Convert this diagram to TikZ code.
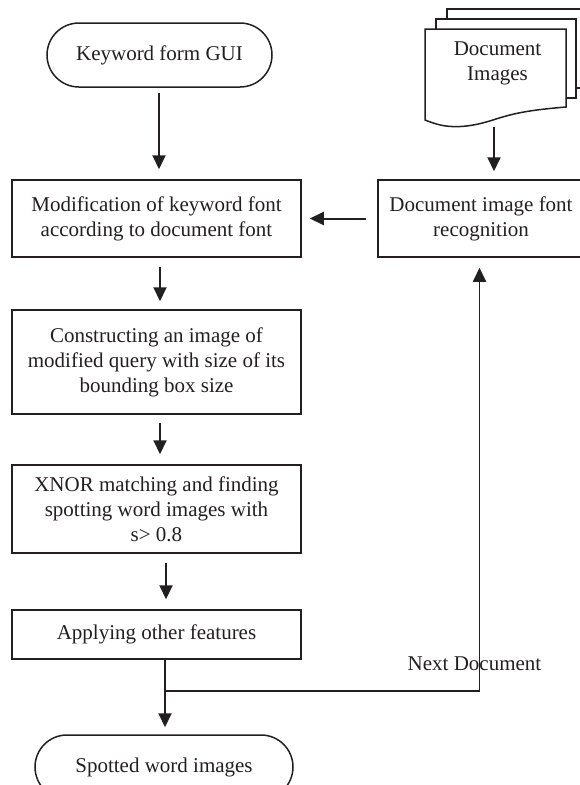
\documentclass[tikz,border=0pt]{standalone}
\usepackage{fontspec}
\setmainfont{Liberation Serif}
\usetikzlibrary{arrows.meta}
\definecolor{lc}{HTML}{231F20}
\begin{document}
\begin{tikzpicture}[x=1pt,y=-1pt,
  every node/.style={text=lc, font=\fontsize{21}{25}\selectfont},
  box/.style={draw=lc, line width=1.5pt, minimum width=289pt, align=center, inner sep=0pt},
  term/.style={draw=lc, line width=1.5pt, rounded corners=32pt, minimum height=64pt, align=center, inner sep=0pt},
  arr/.style={draw=lc, line width=2pt, -{Triangle[length=14pt,width=13pt]}},
  page/.style={draw=lc, line width=1.5pt, fill=white},
]
\useasboundingbox (0,0) rectangle (580,785);
\clip (0,0) rectangle (580,785);

% terminals
\node[term, minimum width=225pt] (kw) at (159.5,55) {Keyword form GUI};
\node[term, minimum width=258pt] (sp) at (164,767) {Spotted word images};

% process boxes
\node[box, minimum height=77pt] (b1) at (156.5,218.5) {Modification of keyword font\\according to document font};
\node[box, minimum height=104pt] (b2) at (156.5,362) {Constructing an image of\\modified query with size of its\\bounding box size};
\node[box, minimum height=88pt] (b3) at (156.5,509) {XNOR matching and finding\\spotting word images with\\s> 0.8};
\node[box, minimum height=49pt] (b4) at (156.5,634.5) {Applying other features};
\node[box, minimum width=206pt, minimum height=77pt] (b5) at (481,218.5) {Document image font\\recognition};

% document stack
\path[page] (447,9) -- (590,9) -- (590,88) -- (447,88) -- cycle;
\path[page] (436,19) -- (576,19) -- (576,98) -- (436,98) -- cycle;
\path[page] (425,29) -- (566,29) -- (566,107)
  .. controls (530,110) and (515,113) .. (496,119)
  .. controls (478,125) and (462,128) .. (446,126)
  .. controls (438,125) and (430,122) .. (425,120) -- cycle;
\node[align=center] (doct) at (497.5,63) {Document\\Images};
\coordinate (docb) at (494,127);

% connectors
\draw[arr, shorten <=5pt, shorten >=10pt] ([xshift=-0.5pt]kw.south) -- ([xshift=-0.5pt]kw.south |- b1.north);
\draw[arr, shorten <=9pt, shorten >=8pt] ([xshift=3.5pt]b1.south) -- ([xshift=3.5pt]b2.north);
\draw[arr, shorten <=8pt, shorten >=10pt] ([xshift=3.5pt]b2.south) -- ([xshift=3.5pt]b3.north);
\draw[arr, shorten <=9pt, shorten >=10pt] ([xshift=9.5pt]b3.south) -- ([xshift=9.5pt]b4.north);
\draw[arr, shorten >=7pt] ([xshift=8.5pt]b4.south) -- ([xshift=8.5pt]b4.south |- sp.north);
\draw[arr, shorten <=11pt, shorten >=8pt] (b5.west |- b1.east) -- (b1.east);
\draw[arr, shorten >=8pt] (docb) -- (docb |- b5.north);

\coordinate (j) at (165,691);
\coordinate (c) at (479.5,691);
\draw[draw=lc, line width=1.8pt, -{Triangle[length=14pt,width=13pt]}, shorten >=10pt] (j) -- (c) -- (c |- b5.south);
\node (nd) at (474.5,664) {Next Document};
\end{tikzpicture}
\end{document}
